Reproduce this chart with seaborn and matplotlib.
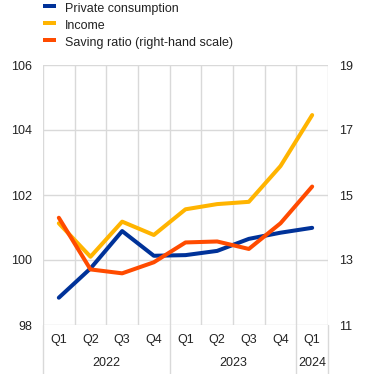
import matplotlib
matplotlib.use("Agg")
import matplotlib.pyplot as plt
from matplotlib.lines import Line2D
from matplotlib.patches import Rectangle
import seaborn as sns
import pandas as pd
import numpy as np

quarters = ["Q1", "Q2", "Q3", "Q4", "Q1", "Q2", "Q3", "Q4", "Q1"]
years = ["2022", "2023", "2024"]
consumption = [98.84, 99.74, 100.89, 100.13, 100.15, 100.28, 100.65, 100.84, 100.99]
income = [101.13, 100.10, 101.18, 100.77, 101.56, 101.72, 101.79, 102.89, 104.46]
saving = [14.30, 12.71, 12.59, 12.93, 13.54, 13.57, 13.34, 14.13, 15.26]
series_names = ["Private consumption", "Income", "Saving ratio (right-hand scale)"]

C_BLUE = "#003299"
C_YEL = "#FFB400"
C_ORG = "#FF4B00"
GRID = "#d9d9d9"
TXT = "#222222"

sns.set_style("white")
plt.rcParams["font.family"] = ["Liberation Sans", "DejaVu Sans"]
plt.rcParams["font.size"] = 9

idx = np.arange(len(quarters))
df = pd.DataFrame({"x": idx, "cons": consumption, "inc": income, "sav": saving})

W, H = 372, 374
fig = plt.figure(figsize=(W / 100, H / 100), dpi=100)
ax = fig.add_axes([43 / W, 49 / H, 285 / W, 260 / H])
ax2 = ax.twinx()

lw = 2.9
sns.lineplot(data=df, x="x", y="cons", ax=ax, color=C_BLUE, linewidth=lw, zorder=3)
sns.lineplot(data=df, x="x", y="inc", ax=ax, color=C_YEL, linewidth=lw, zorder=2)
sns.lineplot(data=df, x="x", y="sav", ax=ax2, color=C_ORG, linewidth=lw, zorder=4)

ax.set_ylim(98, 106)
ax.set_yticks([98, 100, 102, 104, 106])
ax2.set_ylim(11, 19)
ax2.set_yticks([11, 13, 15, 17, 19])
ax.set_xlim(-0.5, 8.5)
ax.set_xticks(idx)
ax.set_xticklabels([])
ax.set_xticks(np.arange(-0.5, 9.0, 1.0), minor=True)
ax.set_xlabel("")
ax.set_ylabel("")
ax2.set_ylabel("")

ax.grid(False)
ax2.grid(False)
ax.grid(axis="y", which="major", color=GRID, linewidth=1.0)
ax.grid(axis="x", which="minor", color=GRID, linewidth=1.0)
for s in ax.spines.values():
    s.set_visible(False)
for s in ax2.spines.values():
    s.set_visible(False)
ax.tick_params(axis="both", which="both", length=0, labelsize=9, colors=TXT)
ax.tick_params(axis="y", pad=8)
ax2.tick_params(axis="y", length=0, labelsize=9, colors=TXT, pad=8)
ax.set_axisbelow(True)
ax2.set_zorder(ax.get_zorder() + 1)
ax2.patch.set_visible(False)

# category labels
trans = ax.get_xaxis_transform()
for i, q in enumerate(quarters):
    ax.text(i, -15 / 260, q, transform=trans, ha="center", va="center", fontsize=9, color=TXT)
year_pos = [1.5, 5.5, 8.0]
for p, y in zip(year_pos, years):
    ax.text(p, -38 / 260, y, transform=trans, ha="center", va="center", fontsize=9, color=TXT)
for b in [-0.5, 3.5, 7.5, 8.5]:
    ax.add_line(Line2D([b, b], [0, -49 / 260], transform=trans, color=GRID, linewidth=1.0, clip_on=False))

# legend (drawn manually to match the reference placement)
colors = [C_BLUE, C_YEL, C_ORG]
handle_y = [5.7, 23.0, 40.3]
text_y = [9.3, 26.0, 42.7]
for c, hy, ty, name in zip(colors, handle_y, text_y, series_names):
    fig.patches.append(Rectangle((43 / W, 1 - (hy + 1.8) / H), 13 / W, 3.6 / H,
                                 transform=fig.transFigure, facecolor=c, edgecolor="none"))
    fig.text(65 / W, 1 - ty / H, name, ha="left", va="center", fontsize=9, color=TXT)

fig.savefig("out.png", dpi=100)
